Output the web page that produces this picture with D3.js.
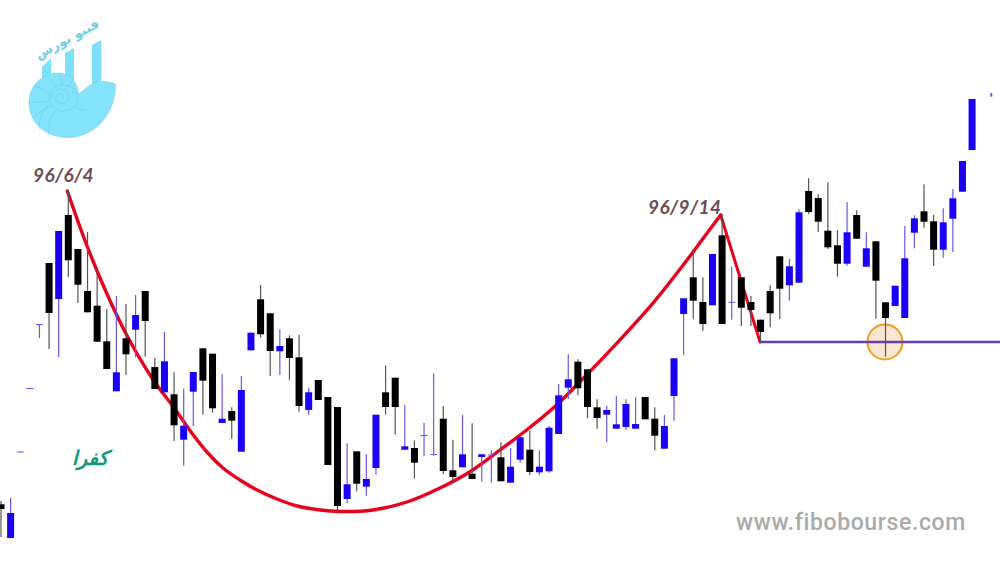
<!DOCTYPE html>
<html><head><meta charset="utf-8">
<script src="https://d3js.org/d3.v7.min.js"></script>
<style>html,body{margin:0;padding:0;background:#fff;overflow:hidden}svg{display:block}</style>
</head><body><svg id="c" width="1000" height="563"></svg>
<script>
const highs=[62,65,111.5,175,239,300,332,373,314,331,
293,253.7,267,259,268,272,205.3,231,190.7,174.3,
191,214.7,209.3,188.7,155.7,187,230.3,278,249.7,233.7,
227.7,228,175.3,183,166,156,119.7,111.7,108.7,148.3,
197.7,185.3,158.3,122.7,140.3,189.7,157,123.3,148,139.7,
108.7,112.7,120.7,115,126.3,132.3,112.7,137,179,209,
203.7,193.7,163.7,157.3,167,163.7,165.7,166,155.7,148,
204.7,264.7,313.7,285.7,309,349,296.3,285.7,267,243.3,
277.7,306.7,304,353.7,384.7,368.7,380.7,333,361,352.7,
330.7,321.7,260.7,277.3,337,347.7,378.7,348,354.7,374,
402,464,null,470];
const lows=[26,25,110.5,174,225,214,206,286,260,250.7,
221.3,194,171.7,188,205.7,206.3,174,170.7,122,97.3,
137,148.3,150.3,140,124.3,111.3,212.7,225.3,187,188,
183.3,151.3,148,163,98,51.3,59.7,71.7,67.3,88.3,
148.3,128.3,113.3,84.3,107,107.3,88.7,81,95.7,84,
81.5,80.3,81.7,80.3,100.3,88,88,90.3,129,164,
167.7,144.7,134.3,120.7,134.3,133,134.3,143.7,112.7,114.3,
142.3,208,243.7,232.3,257.7,239,243.3,237,237,221.3,
235.7,243.7,262.3,280.3,349,331,314,286.3,297.3,324.3,
296.3,244.3,206.3,257,245,314.7,335.3,297,305.3,311,
371.3,413,null,466.3];
const opens=[58.7,25,110.5,174,238,300,264,348,314,272,
257.3,221.7,171.7,224.7,233.3,272,196,170.7,168.7,123.3,
171.3,214.7,209.3,140,152,111.3,212.7,263.7,249.7,211.7,
224.7,205.7,153,183,166,156,64,111.7,76.3,95,
170.7,185.3,113.3,115,127,108,144.3,92.7,95.7,89.3,
106,107.5,105.7,80.3,103.3,113.3,90.7,91.7,129,175.3,
201.3,193.7,155.7,148.3,134.3,136,134.3,166,144.3,114.3,
167,249,285.7,261,257.7,327.7,260.2,285.7,261,243.3,
272,306.7,277.7,280.3,372,365,332.3,317.7,299.3,348,
296.3,321.7,260.7,257,245,330.3,351.7,341.7,313.3,344.3,
371.3,413,null,null];
const closes=[54,50,111.5,175,239,250,332,302.7,278.3,250.7,
221.3,194,190.7,208.7,248,242,174,201.7,137.7,137.3,
191,182.3,154.7,144.3,142.3,173,230.3,228.7,212,217,
205,157,170.7,163,98,57,78.7,79.3,84,148.3,
156,156,116.7,100.3,128,109,92,86,108.7,84,
108.7,108.5,81.7,96.3,125.7,91,96.3,135.3,167.7,183.7,
174.7,156,145,153,138.7,159,139,143.7,127.3,137,
204.7,264.7,262.3,239,309,239,261.2,255.3,253,231,
249.7,274.3,296.7,350.7,351,341.3,315.7,299.3,330.7,324.3,
314.7,282.3,245,277.3,304.7,344.7,341.3,313.3,340.7,364.7,
402,464,null,null];
const cupBars=[6.9,8.91,10.99,13.07,15.84,17.92,20,21.42,23.09,24.86,26.63,28.7,30.79,33.18,35.26,38.69,42.23,45.66,48.78,51.9,54.67,57.79,60.56,64.04,67.5,70.96,73.04,74.85];
const cupPrices=[372,318,269.7,228,183,156.3,128,111,95,83,73,64,57,53,51.5,53,61,75,91.3,113,133,158,184.7,219.7,256.3,298,324.7,348];
const legBars=[74.85,78.95];
const legPrices=[348,221];
const supportBars=[78.95,104];
const supportPrice=221;
const signalBar=91.94;
const dateLabels=["96/6/4","96/9/14"];
const symbolLabel="کفرا";
const siteLabel="www.fibobourse.com";
const logoLabel="فیبو بورس";

const svg=d3.select("#c");
const x=d3.scaleLinear().domain([0,103]).range([1,991.3]);
const y=d3.scaleLinear().domain([0,563]).range([563,0]);
const BLUE="#1a00f5",BLACK="#000",WICKB="#6a58ee",WICKK="#555";

// logo
const logo=svg.append("g");
const barFill="#7ae0fb";
[["M42,67L51,58L51,84L42,84Z"],["M65,53L74,48L74,84L65,84Z"],["M92,45L101,40L101,90L92,90Z"]]
 .forEach(d=>logo.append("path").attr("d",d[0]).attr("fill",barFill));
logo.append("path").attr("d","M115.5,84 C116,112 96,137.5 68,137.5 C45,137.5 29,122 29,103 C29,85 43,73 58,73 C69,73 78,82 78.5,94 C86,89 90,83 99,82 C105,81 111,82 115.5,84Z")
 .attr("fill","#85e2fb").attr("stroke","#6acce8").attr("stroke-width",.5);
const rib="#66c8e8";
["M49.5,97 C49.5,90 55,85 62,85 C72,85 78,91 78,97 C78,106 71,111 63,111 C55,111 49.5,105 49.5,97Z",
 "M51,99 C51,92 57,88 62,89 C68,90 70,96 68,100 C66,104 60,105 57,102 C54,99 56,94 60,94 C63,94 64,98 62,99",
 "M49,105 C40,112 38,124 40,130","M56,111 C50,116 47,125 49,135","M60,73 C62,78 62,82 62,85","M46,76 C52,81 54,85 55,88","M35,86 C42,88 47,92 50,94","M29,103 C36,102 43,102 49,101","M33,118 C38,113 44,109 51,106","M74,78 C72,82 70,85 68,87","M78,94 C76,93 74,92 72,91","M75,106 C78,109 80,110 85,110"]
 .forEach(d=>logo.append("path").attr("d",d).attr("fill","none").attr("stroke",rib).attr("stroke-width",.5));
logo.append("text").attr("transform","translate(69,43) rotate(-28)").attr("text-anchor","middle")
 .attr("font-family","DejaVu Sans").attr("font-size",13).attr("font-weight","bold").attr("fill","#72cdea").text(logoLabel);

// pattern lines
svg.append("path").datum(d3.zip(cupBars,cupPrices))
 .attr("d",d3.line().x(d=>x(d[0])).y(d=>y(d[1])).curve(d3.curveCatmullRom.alpha(.5)))
 .attr("fill","none").attr("stroke","#e8001c").attr("stroke-width",3.4).attr("stroke-linecap","round");
svg.append("path").datum(d3.zip(legBars,legPrices))
 .attr("d",d3.line().x(d=>x(d[0])).y(d=>y(d[1])))
 .attr("fill","none").attr("stroke","#e8001c").attr("stroke-width",3).attr("stroke-linecap","round");
svg.append("circle").attr("cx",x(signalBar)).attr("cy",y(supportPrice)).attr("r",17.5)
 .attr("fill","#fbe6d2").attr("stroke","#f0a020").attr("stroke-width",2);
svg.append("line").attr("x1",x(supportBars[0])).attr("x2",x(supportBars[1]))
 .attr("y1",y(supportPrice)).attr("y2",y(supportPrice)).attr("stroke","#6a3cb4").attr("stroke-width",2.4);

// candles
const candles=highs.map((h,i)=>({i,h,l:lows[i],o:opens[i],c:closes[i]})).filter(d=>d.h!==null);
const up=d=>d.o===null||d.c>=d.o;
const g=svg.append("g");
g.selectAll("line.w").data(candles).join("line").attr("class","w")
 .attr("x1",d=>x(d.i)).attr("x2",d=>x(d.i)).attr("y1",d=>y(d.h)).attr("y2",d=>y(d.l))
 .attr("stroke",d=>up(d)?WICKB:WICKK).attr("stroke-width",d=>d.o===null?2:1.2);
g.selectAll("rect").data(candles.filter(d=>d.o!==null)).join("rect")
 .attr("x",d=>x(d.i)-3.5).attr("width",7)
 .attr("y",d=>y(Math.max(d.o,d.c))).attr("height",d=>Math.abs(d.o-d.c))
 .attr("fill",d=>Math.abs(d.o-d.c)<=1.5?WICKB:(up(d)?BLUE:BLACK));

// labels
const lab=(t,xp,yp,o)=>svg.append("text").attr("x",xp).attr("y",yp).text(t)
 .attr("font-family",o.f).attr("font-size",o.s).attr("fill",o.c).attr("font-weight",o.w||"normal")
 .attr("font-style",o.i?"italic":"normal").attr("letter-spacing",o.ls||0);
lab(dateLabels[0],33,182,{f:"Lato",s:19,c:"#6e4a52",w:"bold",i:true,ls:.4});
lab(dateLabels[1],648,214,{f:"Lato",s:19,c:"#6e4a52",w:"bold",i:true,ls:.4});
lab(symbolLabel,72,465,{f:"DejaVu Sans",s:20,c:"#12977a",w:"bold",i:true});
lab(siteLabel,736,530,{f:"Roboto",s:23,c:"#aaaaaa",w:500,ls:.62});
</script></body></html>
